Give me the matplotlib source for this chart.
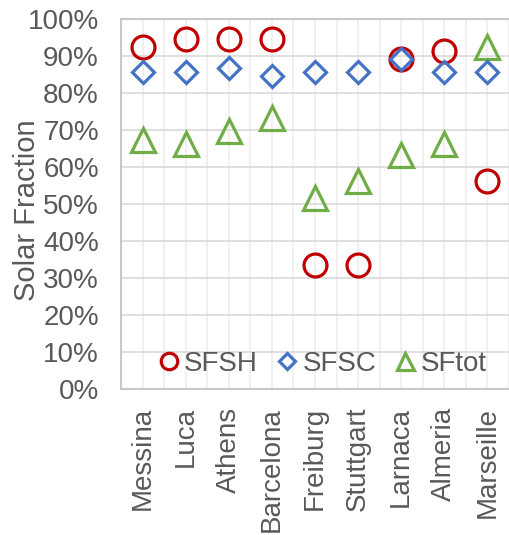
import matplotlib
matplotlib.use('Agg')
import matplotlib.pyplot as plt
from matplotlib.ticker import MultipleLocator, PercentFormatter

plt.rcParams['font.family'] = ['Liberation Sans', 'DejaVu Sans']

cities = ['Messina', 'Luca', 'Athens', 'Barcelona', 'Freiburg',
          'Stuttgart', 'Larnaca', 'Almeria', 'Marseille']
sfsh = [92.5, 94.6, 94.6, 94.6, 33.5, 33.5, 89.2, 91.4, 56.2]
sfsc = [85.8, 85.8, 86.7, 84.6, 85.8, 85.8, 89.2, 85.8, 85.8]
sftot = [67.4, 66.3, 69.6, 73.2, 51.6, 56.3, 63.2, 66.3, 92.4]

grey = '#595959'
fs = 20

fig = plt.figure(figsize=(5.09, 5.35), dpi=100)
ax = fig.add_axes([121/509, 1 - 389/535, 1 - 121/509, 370/535])

x = range(len(cities))
ax.plot(x, sfsh, ls='none', marker='o', ms=16.5, mfc='none', mec='#C00000', mew=2.3, label='SFSH', zorder=3)
ax.plot(x, sfsc, ls='none', marker='D', ms=11.5, mfc='none', mec='#4472C4', mew=2.3, label='SFSC', zorder=4)
ax.plot(x, sftot, ls='none', marker='^', ms=17, mfc='none', mec='#70AD47', mew=2.3, label='SFtot', zorder=3)

ax.set_xlim(-0.5, 8.5)
ax.set_ylim(0, 100)
ax.yaxis.set_major_locator(MultipleLocator(10))
ax.yaxis.set_major_formatter(PercentFormatter(decimals=0))
ax.set_xticks(list(x))
ax.set_xticklabels(cities, rotation=90)
ax.set_xticks([i + 0.5 for i in range(-1, 9)], minor=True)

ax.grid(axis='y', which='major', color='#D9D9D9', lw=1.2, zorder=0)
ax.grid(axis='x', which='both', color='#EDEDED', lw=1.2, zorder=0)
ax.set_axisbelow(True)

ax.tick_params(axis='both', which='both', length=0, labelsize=fs, labelcolor=grey)
ax.tick_params(axis='y', pad=16)
ax.tick_params(axis='x', pad=13)

for side in ['top', 'bottom', 'left']:
    ax.spines[side].set_color('#C8C8C8')
    ax.spines[side].set_linewidth(1.5)
ax.spines['right'].set_visible(False)

ax.set_ylabel('Solar Fraction', fontsize=21, color=grey)
ax.yaxis.set_label_coords(-0.207, 0.482)

leg = ax.legend(loc='center', bbox_to_anchor=(321.5/509, 1 - 364/535), bbox_transform=fig.transFigure,
                ncol=3, frameon=False, fontsize=fs, markerscale=0.72, handlelength=0.9,
                handletextpad=0.1, columnspacing=0.6, borderpad=0.1)
for t in leg.get_texts():
    t.set_color(grey)

fig.savefig('out.png', dpi=100)
